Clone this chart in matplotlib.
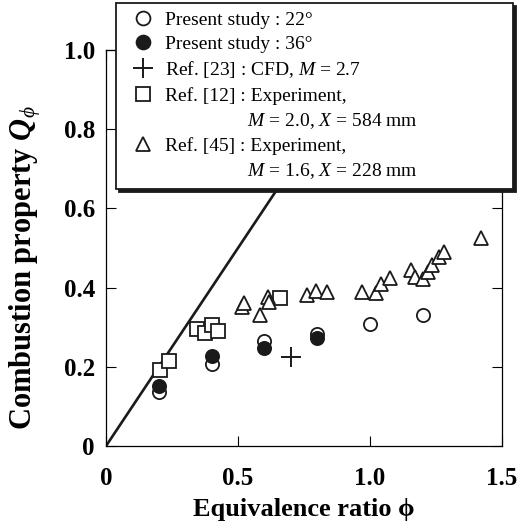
import matplotlib.pyplot as plt
from matplotlib.lines import Line2D

plt.rcParams['font.family'] = ['Liberation Serif', 'DejaVu Serif']
plt.rcParams['mathtext.fontset'] = 'custom'
plt.rcParams['mathtext.rm'] = 'Liberation Serif'
plt.rcParams['mathtext.it'] = 'Liberation Serif:italic'
plt.rcParams['mathtext.bf'] = 'Liberation Serif:bold'
plt.rcParams['mathtext.bfit'] = 'Liberation Serif:italic:bold'

# present study, 22 deg (open) and 36 deg (filled)
phi_22 = [0.20, 0.40, 0.60, 0.80, 1.00, 1.20]
q_22 = [0.137, 0.207, 0.265, 0.282, 0.309, 0.330]
phi_36 = [0.20, 0.40, 0.60, 0.80]
q_36 = [0.152, 0.227, 0.248, 0.272]

# Ref. [23] CFD
phi_cfd = [0.70]
q_cfd = [0.224]

# Ref. [12] experiment
phi_r12 = [0.203, 0.239, 0.343, 0.375, 0.400, 0.424, 0.659]
q_r12 = [0.192, 0.215, 0.295, 0.286, 0.306, 0.290, 0.375]

# Ref. [45] experiment
phi_r45 = [0.516, 0.523, 0.583, 0.615, 0.619, 0.760, 0.795, 0.836, 0.970, 1.023,
           1.040, 1.077, 1.157, 1.170, 1.201, 1.221, 1.234, 1.262, 1.281, 1.420]
q_r45 = [0.350, 0.360, 0.332, 0.377, 0.364, 0.381, 0.392, 0.389, 0.389, 0.386,
         0.409, 0.423, 0.445, 0.428, 0.422, 0.440, 0.458, 0.478, 0.491, 0.524]

# complete combustion line Q = phi
line_phi = [0.0, 1.0]
line_q = [0.0, 1.0]

xticks = [0, 0.5, 1.0, 1.5]
xticklabels = ['0', '0.5', '1.0', '1.5']
yticks = [0, 0.2, 0.4, 0.6, 0.8, 1.0]
yticklabels = ['0', '0.2', '0.4', '0.6', '0.8', '1.0']

fig = plt.figure(figsize=(5.18, 5.28), dpi=100)
ax = fig.add_axes([106 / 518, 82 / 528, 396 / 518, 396 / 528])

ax.plot(line_phi, line_q, color='#1a1a1a', lw=1.9, zorder=2)

ms = 9.5
mew = 1.3
h1, = ax.plot(phi_22, q_22, 'o', ms=ms, mfc='white', mec='#1a1a1a', mew=mew, zorder=3)
h2, = ax.plot(phi_36, q_36, 'o', ms=ms, mfc='#1a1a1a', mec='#1a1a1a', mew=mew, zorder=4)
h3, = ax.plot(phi_cfd, q_cfd, '+', ms=14, mec='#1a1a1a', mew=1.4, zorder=4)
h4, = ax.plot(phi_r12, q_r12, 's', ms=ms, mfc='white', mec='#1a1a1a', mew=mew, zorder=3)
h5, = ax.plot(phi_r45, q_r45, '^', ms=ms, mfc='white', mec='#1a1a1a', mew=mew, zorder=3)

ax.set_xlim(0, 1.5)
ax.set_ylim(0, 1.0)
ax.set_xticks(xticks)
ax.set_xticklabels(xticklabels)
ax.set_yticks(yticks)
ax.set_yticklabels(yticklabels)
ax.tick_params(direction='in', length=7, width=0.8, top=True, right=True,
               labelsize=18)
ax.tick_params(axis='x', pad=15)
ax.tick_params(axis='y', pad=8)
for lab in ax.get_xticklabels() + ax.get_yticklabels():
    lab.set_fontweight('bold')
for s in ax.spines.values():
    s.set_linewidth(0.9)

ax.set_xlabel('Equivalence ratio ϕ', fontsize=19, fontweight='bold', labelpad=6)
ax.set_ylabel(r'Combustion property $\mathbfit{Q}_{\phi}$', fontsize=22,
              fontweight='bold')
ax.yaxis.set_label_coords(-0.16, 0.45)

blank = Line2D([], [], linestyle='none')
pad = ' ' * 17
handles = [h1, h2, h3, h4, blank, h5, blank]
labels = ['Present study : 22°',
          'Present study : 36°',
          'Ref. [23] : CFD, $M$ = 2.7',
          'Ref. [12] : Experiment,',
          pad + '$M$ = 2.0, $X$ = 584 mm',
          'Ref. [45] : Experiment,',
          pad + '$M$ = 1.6, $X$ = 228 mm']
leg = ax.legend(handles, labels, loc='upper left',
                bbox_to_anchor=(116 / 518, 339 / 528, 397 / 518, 186 / 528),
                bbox_transform=fig.transFigure, mode='expand', borderaxespad=0,
                fontsize=14, frameon=True, fancybox=False,
                shadow={'facecolor': '#1a1a1a', 'edgecolor': '#1a1a1a', 'alpha': 1},
                handlelength=1.9, handletextpad=0.2, labelspacing=0.33,
                borderpad=0.42, markerscale=1.05)
leg.get_frame().set_edgecolor('#1a1a1a')
leg.get_frame().set_linewidth(1.3)
leg.set_zorder(10)

fig.savefig('out.png', dpi=100)
